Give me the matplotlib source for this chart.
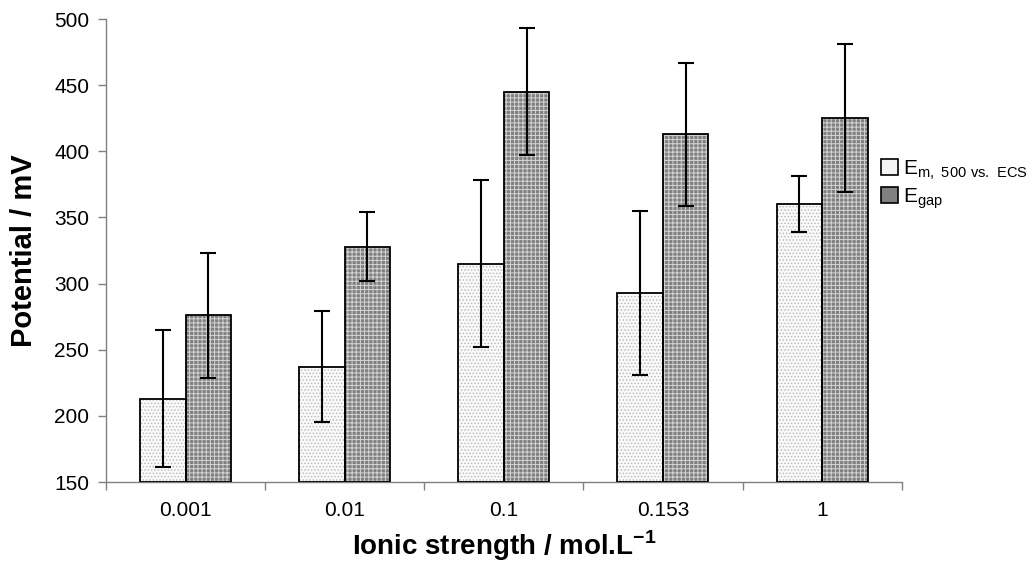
import numpy as np
import matplotlib
matplotlib.use("Agg")
import matplotlib.pyplot as plt
from matplotlib.patches import Patch

plt.rcParams['font.family'] = ['Liberation Sans', 'DejaVu Sans']
plt.rcParams['mathtext.fontset'] = 'custom'
plt.rcParams['mathtext.rm'] = 'Liberation Sans'
plt.rcParams['mathtext.bf'] = 'Liberation Sans:bold'
plt.rcParams['hatch.linewidth'] = 0.7

# data
categories = ['0.001', '0.01', '0.1', '0.153', '1']
em_values = [213, 237, 315, 293, 360]
em_errors = [52, 42, 63, 62, 21]
gap_values = [276, 328, 445, 413, 425]
gap_errors = [47, 26, 48, 54, 56]

x = np.arange(len(categories))
w = 0.286

fig = plt.figure(figsize=(10.32, 5.77), dpi=100)
ax = fig.add_axes([0.1027, 0.1646, 0.7710, 0.8024])

# textured fills first (hatch takes the edge colour), then black outlines
em_h = np.array(em_values) - 150
gap_h = np.array(gap_values) - 150
ax.bar(x - w / 2, em_h, w, bottom=150, facecolor='#fafafa',
       hatch='.....', edgecolor='#bdbdbd', linewidth=0, zorder=2)
ax.bar(x + w / 2, gap_h, w, bottom=150, facecolor='#808080',
       hatch='++++', edgecolor='#d4d4d4', linewidth=0, zorder=2)
ax.bar(x - w / 2, em_h, w, bottom=150, fill=False,
       edgecolor='black', linewidth=1.3, zorder=3)
ax.bar(x + w / 2, gap_h, w, bottom=150, fill=False,
       edgecolor='black', linewidth=1.3, zorder=3)

ax.errorbar(x - w / 2, em_values, yerr=em_errors, fmt='none', ecolor='black',
            elinewidth=1.5, capsize=5.5, capthick=1.5, zorder=4)
ax.errorbar(x + w / 2, gap_values, yerr=gap_errors, fmt='none', ecolor='black',
            elinewidth=1.5, capsize=5.5, capthick=1.5, zorder=4)

ax.set_xlim(-0.5, len(categories) - 0.5)
ax.set_ylim(150, 500)
ax.set_yticks(np.arange(150, 501, 50))

# boundary ticks (unlabelled) and centred category labels
ax.set_xticks(np.arange(-0.5, len(categories), 1.0))
ax.set_xticklabels([])
ax.set_xticks(x, minor=True)
ax.set_xticklabels(categories, minor=True)
ax.tick_params(axis='x', which='minor', length=0, pad=14, labelsize=15)
ax.tick_params(axis='x', which='major', length=6, color='#808080', width=1)
ax.tick_params(axis='y', length=6, color='#808080', width=1, labelsize=15, pad=6)

for side in ['top', 'right']:
    ax.spines[side].set_visible(False)
for side in ['left', 'bottom']:
    ax.spines[side].set_color('#808080')
    ax.spines[side].set_linewidth(1)

ax.set_ylabel('Potential / mV', fontsize=21, fontweight='bold', labelpad=12)
ax.set_xlabel('Ionic strength / mol.L$^{\\mathbf{-1}}$', fontsize=20,
              fontweight='bold', labelpad=6)

handles = [
    Patch(facecolor='#f4f4f4', edgecolor='black', linewidth=1.2),
    Patch(facecolor='#808080', edgecolor='black', linewidth=1.2),
]
labels = ['E$_{\\mathrm{m,\\ 500\\ vs.\\ ECS}}$', 'E$_{\\mathrm{gap}}$']
fig.legend(handles, labels, loc='center left', bbox_to_anchor=(0.84, 0.68),
           frameon=False, fontsize=15, handlelength=0.8, handleheight=0.8,
           handletextpad=0.25, labelspacing=0.2, borderpad=0.2)

fig.savefig('out.png', dpi=100)
